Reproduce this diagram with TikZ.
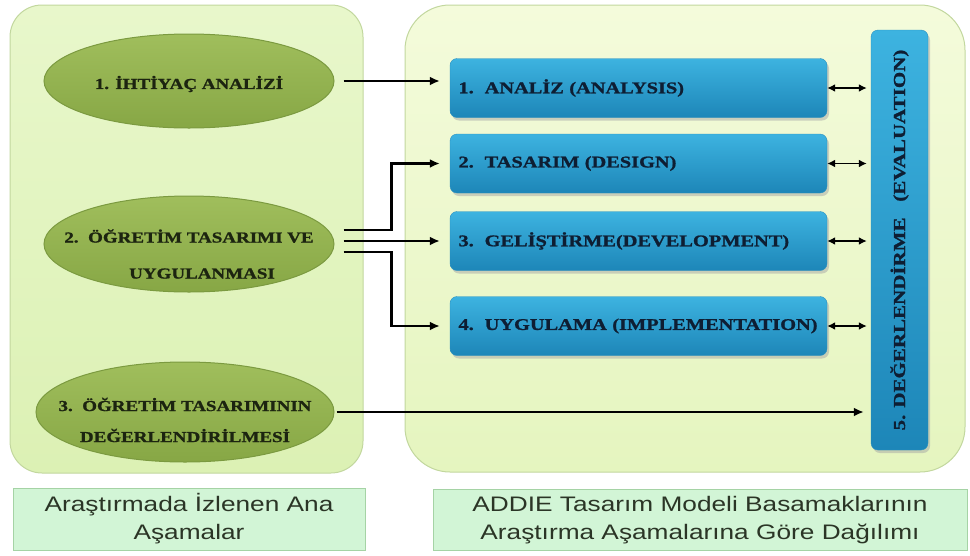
\documentclass[tikz,border=0pt]{standalone}
\usepackage{fontspec}
\setmainfont{Liberation Serif}
\newfontfamily\wideserif{Liberation Serif}[FakeStretch=1.25, BoldFeatures={FakeBold=1.2}]
\newfontfamily\widesans{Liberation Sans}[FakeStretch=1.25]
\usetikzlibrary{positioning, arrows.meta, shapes.geometric, shadows}
\definecolor{panelline}{HTML}{C2D79E}
\definecolor{olivetop}{HTML}{A0BE5C}
\definecolor{olivebot}{HTML}{87A745}
\definecolor{oliveline}{HTML}{7B9A40}
\definecolor{bluetop}{HTML}{3DB3E0}
\definecolor{bluebot}{HTML}{1D86B8}
\definecolor{blueline}{HTML}{2B90C0}
\definecolor{capfill}{HTML}{D2F5D6}
\definecolor{capline}{HTML}{A5D3A5}
\definecolor{inkdark}{HTML}{1C2410}
\definecolor{inknavy}{HTML}{0E1E33}
\definecolor{inkgray}{HTML}{2B3526}
\definecolor{lefttop}{HTML}{E8F7CB}
\definecolor{leftbot}{HTML}{DCF1B4}
\definecolor{righttop}{HTML}{F4FBDB}
\definecolor{rightbot}{HTML}{E5F5BF}

\begin{document}
\begin{tikzpicture}[x=1pt, y=-1pt,
    panel/.style={draw=panelline, line width=1pt, rounded corners=#1},
    phase/.style={ellipse, draw=oliveline, line width=1pt, top color=olivetop, bottom color=olivebot,
        minimum width=290pt, minimum height=94pt, inner sep=0pt},
    phasetext/.style={align=center, text=inkdark, inner sep=0pt,
        font=\wideserif\bfseries\fontsize{15.2}{31}\selectfont},
    stepbox/.style={rounded corners=7pt, draw=blueline, top color=bluetop, bottom color=bluebot,
        drop shadow={shadow xshift=2pt, shadow yshift=-3pt, fill=black!35}, text=inknavy,
        font=\wideserif\bfseries\fontsize{16.3}{20}\selectfont},
    capbox/.style={draw=capline, fill=capfill, line width=1pt, inner sep=0pt, align=center,
        text=inkgray, font=\widesans\fontsize{21}{28}\selectfont},
    arr/.style={line width=2.2pt, -{Latex[length=10pt,width=9pt]}},
    darr/.style={line width=1.7pt, {Latex[length=8pt,width=8pt]}-{Latex[length=8pt,width=8pt]}}]
\useasboundingbox (0,0) rectangle (970,555);

% two panels
\node[panel=32pt, top color=lefttop, bottom color=leftbot,
    minimum width=353pt, minimum height=468pt] (lp) at (186.5,239) {};
\node[panel=45pt, top color=righttop, bottom color=rightbot,
    minimum width=560pt, minimum height=467pt] (rp) at (685,238.5) {};

% research phases
\node[phase, label={[phasetext, yshift=-3pt]center:1. İHTİYAÇ ANALİZİ}] (e1) at (189,81) {};
\node[phase, minimum height=96pt,
    label={[phasetext, yshift=-10pt]center:2.\ \ ÖĞRETİM TASARIMI VE\\[5pt]\hspace*{26pt}UYGULANMASI}] (e2) at (189,244) {};
\node[phase, minimum width=298pt, minimum height=100pt,
    label={[phasetext, yshift=-8pt]center:3.\ \ ÖĞRETİM TASARIMININ\\DEĞERLENDİRİLMESİ}] (e3) at (185,412) {};

% ADDIE steps
\node[stepbox, minimum height=59pt, text width=360pt, inner xsep=8.5pt, align=left] (b1) at (638.5,88) {1.\ \ ANALİZ (ANALYSIS)};
\node[stepbox, minimum height=59pt, text width=360pt, inner xsep=8.5pt, align=left] (b2) at (638.5,163.5) {2.\ \ TASARIM (DESIGN)};
\node[stepbox, minimum height=59pt, text width=360pt, inner xsep=8.5pt, align=left] (b3) at (638.5,241) {3.\ \ GELİŞTİRME(DEVELOPMENT)};
\node[stepbox, minimum height=59pt, text width=360pt, inner xsep=8.5pt, align=left] (b4) at (638.5,326) {4.\ \ UYGULAMA (IMPLEMENTATION)};
\node[stepbox, rotate=90, minimum width=420pt, minimum height=57pt,
    font=\wideserif\bfseries\fontsize{16.8}{20}\selectfont]
    (ev) at (899.5,240) {5. DEĞERLENDİRME\ \ \ (EVALUATION)};

% captions
\node[capbox, minimum width=352pt, minimum height=62pt] (lcap) at (189,519) {Araştırmada İzlenen Ana\\Aşamalar};
\node[capbox, minimum width=534pt, minimum height=61pt] (rcap) at (700,520) {ADDIE Tasarım Modeli Basamaklarının\\Araştırma Aşamalarına Göre Dağılımı};

% connectors
\draw[arr, shorten <=9pt, shorten >=10pt] (e1.east) -- (e1.east -| b1.west);
\coordinate (mid) at (e2.east |- b3.west);
\draw[arr, shorten >=10pt] ([shift={(9pt,11pt)}]mid) -- ++(48,0) |- (b2.west);
\draw[arr, shorten <=9pt, shorten >=10pt] (mid) -- (b3.west);
\draw[arr, shorten >=10pt] ([shift={(9pt,-11pt)}]mid) -- ++(48,0) |- (b4.west);
\draw[arr, shorten <=2pt, shorten >=7pt] (e3.east) -- (e3.east -| ev.north);
\foreach \b in {b1,b2,b3,b4}
    \draw[darr, shorten >=4pt] (\b.east) -- (\b.east -| ev.north);
\end{tikzpicture}
\end{document}
